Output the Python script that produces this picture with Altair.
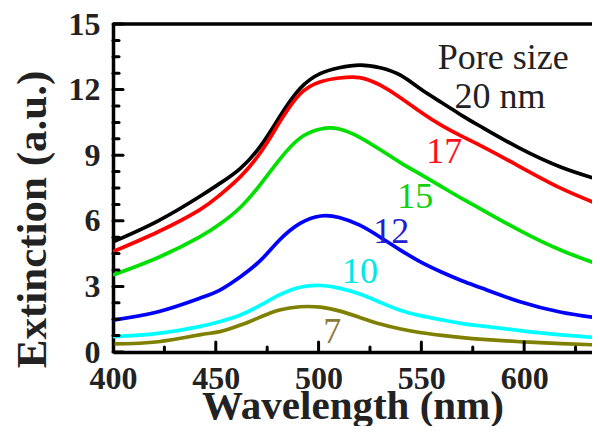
import altair as alt
import pandas as pd

# ---- data ----
wavelength = [400, 422, 442, 452, 462, 472, 481, 491, 501, 510,
              520, 530, 540, 550, 560, 570, 580, 598, 618, 637]

ext_20 = [5.04, 6.00, 7.10, 7.71, 8.40, 9.45, 10.75, 12.05, 12.74, 13.00,
          13.12, 13.00, 12.65, 12.00, 11.40, 10.80, 10.25, 9.31, 8.45, 7.86]
ext_17 = [4.59, 5.50, 6.49, 7.18, 8.02, 9.16, 10.50, 11.80, 12.36, 12.53,
          12.55, 12.20, 11.62, 10.95, 10.35, 9.85, 9.38, 8.47, 7.48, 6.72]
ext_15 = [3.52, 4.32, 5.25, 5.85, 6.62, 7.70, 8.80, 9.78, 10.20, 10.20,
          9.82, 9.25, 8.65, 8.10, 7.55, 7.00, 6.48, 5.55, 4.65, 3.98]
ext_12 = [1.46, 1.84, 2.45, 2.83, 3.44, 4.21, 5.12, 5.88, 6.22, 6.15,
          5.80, 5.25, 4.65, 4.10, 3.65, 3.25, 2.90, 2.30, 1.82, 1.54]
ext_10 = [0.70, 0.85, 1.16, 1.39, 1.69, 2.15, 2.61, 2.96, 3.04, 2.92,
          2.65, 2.27, 1.90, 1.65, 1.47, 1.30, 1.18, 0.98, 0.78, 0.65]
ext_7 = [0.37, 0.47, 0.78, 0.93, 1.23, 1.61, 1.92, 2.07, 2.05, 1.88,
         1.58, 1.28, 1.05, 0.88, 0.76, 0.66, 0.58, 0.47, 0.38, 0.32]

series_names = ["20", "17", "15", "12", "10", "7"]
series_values = [ext_20, ext_17, ext_15, ext_12, ext_10, ext_7]
series_colors = ["#000000", "#ff0000", "#00e000", "#0000ff", "#00ffff", "#808000"]

label_text = ["Pore size", "20 nm", "17", "15", "12", "10", "7"]
label_wl = [589.8, 588.3, 561.1, 547.0, 535.3, 520.2, 506.6]
label_ext = [12.94, 11.16, 8.63, 6.60, 5.00, 3.15, 0.41]
label_colors = ["#222222", "#222222", "#ff1020", "#10d010", "#2020d0", "#00e8e8", "#8b7a3a"]

x_major = [400, 450, 500, 550, 600]
x_minor = [425, 475, 525, 575, 625]
y_major = [0, 3, 6, 9, 12, 15]
y_minor = [0.75, 1.5, 2.25, 3.75, 4.5, 5.25, 6.75, 7.5, 8.25,
           9.75, 10.5, 11.25, 12.75, 13.5, 14.25]

# ---- tables ----
rows = []
for name, vals in zip(series_names, series_values):
    for w, v in zip(wavelength, vals):
        rows.append({"series": name, "wl": w, "ext": v})
df = pd.DataFrame(rows)

df_lab = pd.DataFrame({"t": label_text, "wl": label_wl, "ext": label_ext, "c": label_colors})

W, H = 479, 328
FONT = "Liberation Serif"

xs = alt.Scale(domain=[400, 633], nice=False, zero=False)
ys = alt.Scale(domain=[0, 15], nice=False)

x_axis = alt.Axis(values=x_major, title="Wavelength (nm)", format="d")
y_axis = alt.Axis(values=y_major, title="Extinction (a.u.)", format="d")


def X():
    return alt.X("wl:Q", scale=xs, axis=x_axis)


def Y():
    return alt.Y("ext:Q", scale=ys, axis=y_axis)


lines = alt.Chart(df).mark_line(strokeWidth=3.7, interpolate="natural", clip=True).encode(
    x=X(), y=Y(),
    color=alt.Color("series:N", scale=alt.Scale(domain=series_names, range=series_colors),
                    legend=None),
    order=alt.Order("wl:Q"),
)

labels = alt.Chart(df_lab).mark_text(font=FONT, fontSize=36, align="center",
                                     baseline="alphabetic").encode(
    x=X(), y=Y(),
    text="t:N",
    color=alt.Color("c:N", scale=None),
)


def yticks(vals, length):
    return alt.Chart(pd.DataFrame({"ext": vals})).mark_rule(
        color="black", strokeWidth=3, strokeCap="round").encode(
        y=Y(), x=alt.value(0), x2=alt.value(length))


def xticks(vals, length):
    return alt.Chart(pd.DataFrame({"wl": vals})).mark_rule(
        color="black", strokeWidth=3, strokeCap="round", clip=True).encode(
        x=X(), y=alt.value(H), y2=alt.value(H - length))


# top edge of the frame (the reference's right edge is cut off by the image)
top_edge = alt.Chart(pd.DataFrame({"wl": [400]})).mark_rule(
    color="black", strokeWidth=3.5).encode(
    x=alt.value(0), x2=alt.value(W), y=alt.value(0))

chart = alt.layer(
    lines, labels,
    yticks(y_major, 10), yticks(y_minor, 6),
    xticks(x_major, 10), xticks(x_minor, 5),
    top_edge,
).properties(
    width=W, height=H,
    autosize=alt.AutoSizeParams(type="none"),
    padding={"left": 105, "top": 16, "right": 0, "bottom": 74},
    background="white",
).configure_view(
    stroke=None
).configure_axis(
    domain=True, domainColor="black", domainWidth=3.5,
    ticks=False, grid=False, labelFlush=False,
    labelFont=FONT, labelFontWeight="bold", labelFontSize=32, labelColor="#222222",
    titleFont=FONT, titleFontWeight="bold", titleFontSize=43, titleColor="#222222",
    titleBaseline="alphabetic",
).configure_axisX(
    labelPadding=11, titleY=66, titleFontSize=41,
).configure_axisY(
    labelPadding=13, titleX=-68, titleY=195, titleFontSize=43,
)

chart.save("out.html", embed_options={"renderer": "svg", "actions": False})
